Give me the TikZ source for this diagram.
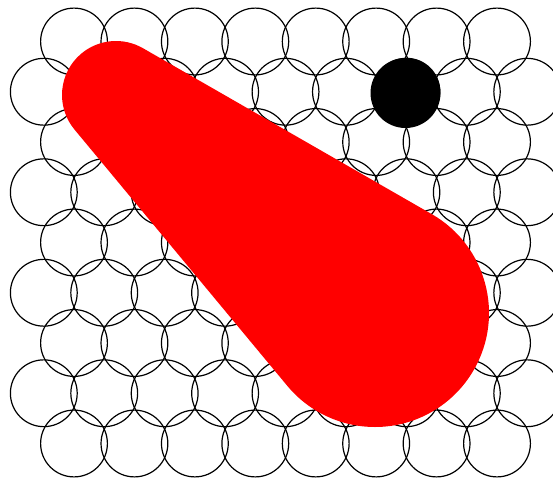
\documentclass[tikz,border=0pt]{standalone}
\usetikzlibrary{calc}
\begin{document}
\begin{tikzpicture}[x=1pt,y=1pt,
  ring/.style={draw=black, line width=1.2pt},
  blob/.style={fill=red},
  dotfill/.style={fill=black}]
\useasboundingbox (0,0) rectangle (553,480);
\clip (0,0) rectangle (553,480);
\fill[white] (0,0) rectangle (553,480);
% grid of circles
\foreach \k in {0,2,4,6,8}
  \foreach \i in {0,...,7}
    \draw[ring] ({74+60.43*\i},{438.5-50.25*\k}) circle[radius=33.4];
\foreach \k in {1,3,5,7}
  \foreach \i in {0,...,8}
    \draw[ring] ({43.8+60.43*\i},{438.5-50.25*\k}) circle[radius=33.4];
% red blob (hull of two circles)
\coordinate (c1) at (116,385);
\coordinate (c2) at (375,167);
\fill[blob] ($(c1)+(60:54)$) -- ($(c2)+(60:114)$)
  arc[start angle=60,end angle=-140,radius=114]
  -- ($(c1)+(220:54)$)
  arc[start angle=220,end angle=60,radius=54] -- cycle;
% black dot
\fill[dotfill] (405.5,387) circle[radius=35];
\end{tikzpicture}
\end{document}
